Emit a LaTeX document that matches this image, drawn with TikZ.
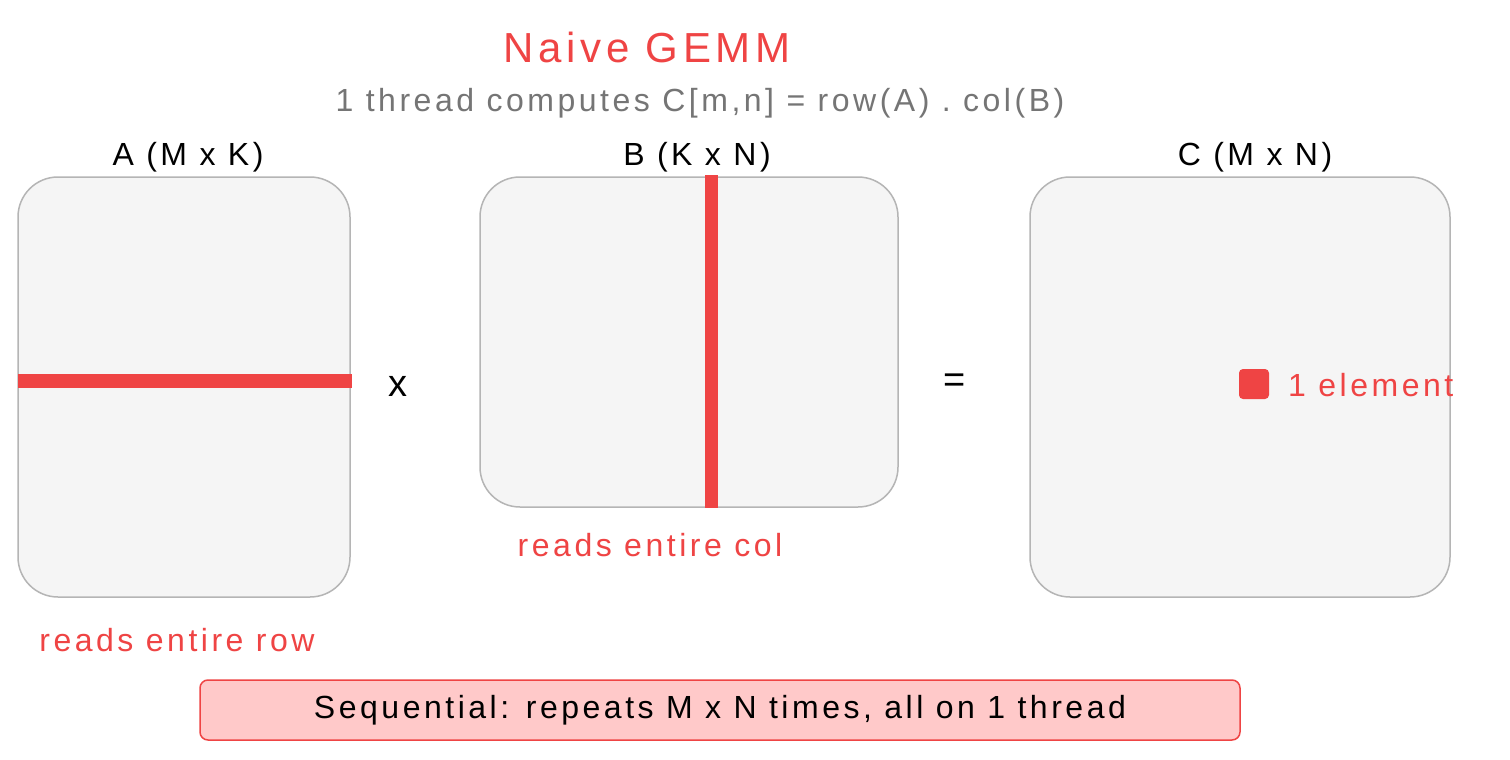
\documentclass[tikz,border=0pt]{standalone}
\usepackage{fontspec}
\setmainfont[LetterSpace=11]{Liberation Sans}
\definecolor{myred}{HTML}{EF4444}
\definecolor{boxfill}{HTML}{F5F5F5}
\definecolor{boxline}{HTML}{B5B5B5}
\definecolor{pinkfill}{HTML}{FFC9C9}
\definecolor{txtgray}{HTML}{757575}
\begin{document}
\begin{tikzpicture}[x=1pt,y=-1pt,
  mat/.style={draw=boxline,line width=1.5pt,fill=boxfill,rounded corners=40pt},
  bar/.style={myred,line width=14pt},
  lbl/.style={font=\fontsize{32}{36}\selectfont,text=black},
  rlbl/.style={font=\fontsize{32}{36}\selectfont,text=myred}]
\useasboundingbox[fill=white] (0,0) rectangle (1510,760);
\node[font=\fontsize{42}{48}\selectfont,text=myred] (title) at (647,47) {Naive GEMM};
\node[font=\fontsize{32}{36}\selectfont,text=txtgray] (sub) at (700,103) {1 thread computes C[m,n] = row(A) . col(B)};
\node[lbl] (la) at (188,157) {A (M x K)};
\node[lbl] (lb) at (697,157) {B (K x N)};
\node[lbl] (lc) at (1255,157) {C (M x N)};
\draw[mat] (18,177) rectangle (350,597);
\draw[mat] (480,177) rectangle (898,507);
\draw[mat] (1030,177) rectangle (1450,597);
\coordinate (a1) at (18,381); \coordinate (a2) at (352,381);
\draw[bar] (a1) -- (a2);
\coordinate (b1) at (711,175); \coordinate (b2) at (711,508);
\draw[bar,line width=13pt] (b1) -- (b2);
\node[lbl,font=\fontsize{38}{42}\selectfont] (times) at (398,386) {x};
\node[lbl,font=\fontsize{38}{42}\selectfont] (eq) at (955,383) {=};
\node[fill=myred,minimum size=30pt,rounded corners=4pt,inner sep=0pt] (el) at (1254,384) {};
\node[rlbl,anchor=west,inner sep=0pt] (elt) at (1288,385) {1 element};
\node[rlbl] (rc) at (650,545) {reads entire col};
\node[rlbl] (rr) at (177,640) {reads entire row};
\node[draw=myred,line width=1.5pt,fill=pinkfill,rounded corners=8pt,minimum width=1040pt,minimum height=60pt,font=\fontsize{32}{36}\selectfont] (seq) at (720,710) {Sequential: repeats M x N times, all on 1 thread};
\end{tikzpicture}
\end{document}
